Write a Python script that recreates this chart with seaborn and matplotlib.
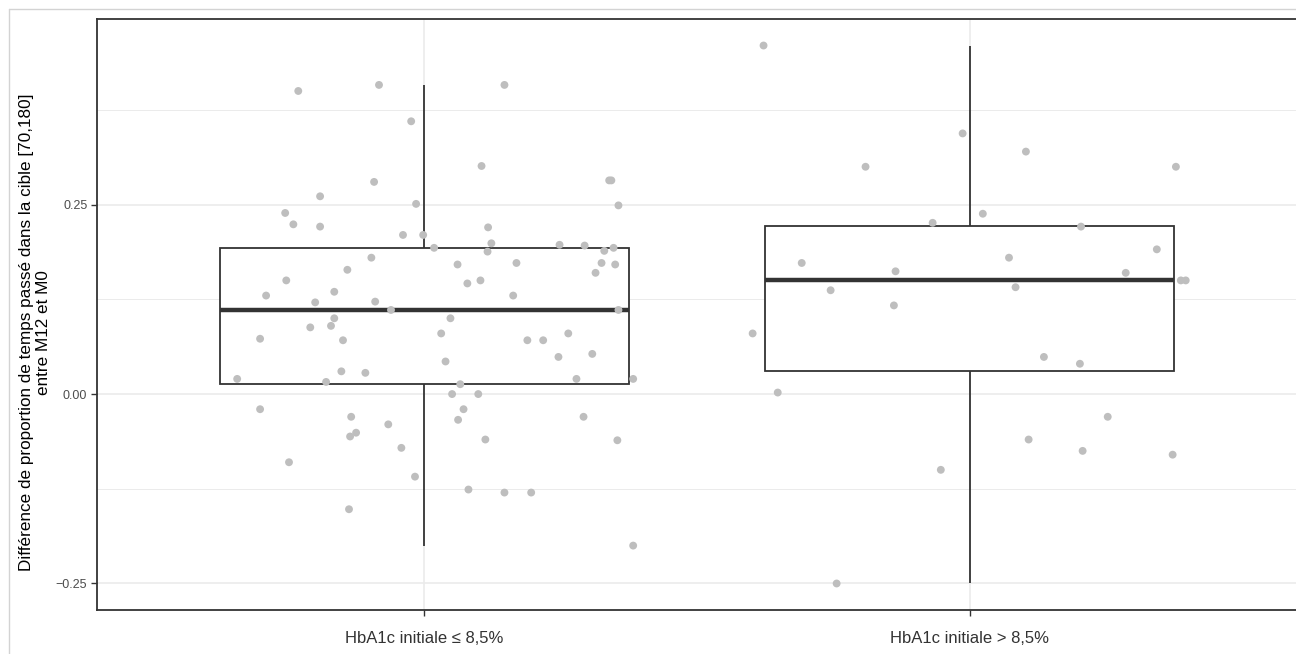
import numpy as np
import pandas as pd
import matplotlib
matplotlib.use("Agg")
import matplotlib.pyplot as plt
from matplotlib.lines import Line2D
import seaborn as sns

# ---------------- data ----------------
categories = ["HbA1c initiale \u2264 8,5%", "HbA1c initiale > 8,5%"]

values_low = [0.400, 0.408, 0.408, 0.360, 0.301, 0.280, 0.282, 0.282, 0.261, 0.251,
              0.249, 0.239, 0.224, 0.221, 0.220, 0.210, 0.210, 0.199, 0.193, 0.188,
              0.197, 0.196, 0.189, 0.193, 0.180, 0.171, 0.173, 0.173, 0.171, 0.164,
              0.150, 0.146, 0.160, 0.150, 0.135, 0.130, 0.130, 0.121, 0.122, 0.111,
              0.111, 0.100, 0.100, 0.090, 0.088, 0.073, 0.071, 0.080, 0.071, 0.071,
              0.080, 0.049, 0.053, 0.043, 0.030, 0.028, 0.020, 0.016, 0.020, 0.020,
              0.013, 0.000, 0.000, -0.020, -0.030, -0.040, -0.051, -0.056, -0.020, -0.034,
              -0.030, -0.071, -0.060, -0.061, -0.090, -0.109, -0.152, -0.126, -0.130, -0.130,
              -0.200]
jitter_low = [-0.231, -0.083, 0.147, -0.024, 0.105, -0.092, 0.339, 0.343, -0.191, -0.015,
              0.356, -0.255, -0.240, -0.191, 0.117, -0.039, -0.002, 0.123, 0.018, 0.116,
              0.248, 0.294, 0.330, 0.347, -0.097, 0.061, 0.169, 0.325, 0.350, -0.141,
              0.103, 0.079, 0.314, -0.253, -0.165, -0.290, 0.163, -0.200, -0.090, -0.061,
              0.356, 0.048, -0.165, -0.171, -0.209, -0.301, -0.149, 0.031, 0.189, 0.218,
              0.264, 0.246, 0.308, 0.039, -0.152, -0.108, -0.343, -0.180, 0.279, 0.383,
              0.066, 0.051, 0.099, -0.301, -0.134, -0.066, -0.125, -0.136, 0.072, 0.062,
              0.292, -0.042, 0.112, 0.354, -0.248, -0.017, -0.138, 0.081, 0.147, 0.196,
              0.383]

values_high = [0.460, 0.344, 0.300, 0.320, 0.300, 0.238, 0.226, 0.221, 0.173, 0.180,
               0.191, 0.162, 0.160, 0.141, 0.137, 0.150, 0.150, 0.117, 0.080, 0.049,
               0.040, 0.002, -0.030, -0.060, -0.075, -0.080, -0.100, -0.250]
jitter_high = [-0.378, -0.013, -0.191, 0.103, 0.378, 0.024, -0.068, 0.204, -0.308, 0.072,
               0.343, -0.136, 0.286, 0.084, -0.255, 0.387, 0.396, -0.139, -0.398, 0.136,
               0.202, -0.352, 0.253, 0.108, 0.207, 0.372, -0.053, -0.244]

y_ticks = [-0.25, 0.00, 0.25]
y_tick_labels = ["\u22120.25", "0.00", "0.25"]
y_label = "Diff\u00e9rence de proportion de temps pass\u00e9 dans la cible [70,180]\nentre M12 et M0"

df = pd.DataFrame({
    "groupe": [categories[0]] * len(values_low) + [categories[1]] * len(values_high),
    "valeur": values_low + values_high,
    "jitter": jitter_low + jitter_high,
})
df["pos"] = df["groupe"].map({c: i for i, c in enumerate(categories)}) + df["jitter"]

# ---------------- style ----------------
sns.set_theme(style="white")
plt.rcParams["font.family"] = ["Liberation Sans", "DejaVu Sans"]

W, H = 1296, 654
fig = plt.figure(figsize=(W / 100, H / 100), dpi=100)
ax = fig.add_axes([97 / W, 1 - 610 / H, 1200 / W, (610 - 19) / H])

dark = "#333333"
grid_c = "#EBEBEB"

sns.boxplot(data=df, x="groupe", y="valeur", order=categories, ax=ax,
            width=0.75, whis=1.5, showcaps=False, showfliers=False,
            color="white", linecolor=dark, linewidth=1.3,
            medianprops=dict(color=dark, linewidth=3.2),
            boxprops=dict(facecolor="white", edgecolor=dark, zorder=2),
            whiskerprops=dict(color=dark, linewidth=1.3))

sns.scatterplot(data=df, x="pos", y="valeur", ax=ax, color="#BEBEBE",
                s=32, edgecolor="none", linewidth=0, zorder=4, legend=False)

ax.set_xlim(-0.6, 1.6)
ax.set_ylim(-0.285, 0.495)
ax.set_xticks([0, 1])
ax.set_xticklabels(categories, fontsize=12, color="#333333")
ax.set_yticks(y_ticks)
ax.set_yticklabels(y_tick_labels, fontsize=9, color="#4D4D4D")
ax.set_yticks([-0.125, 0.125, 0.375], minor=True)
ax.tick_params(axis="both", which="major", length=4, width=1.0, color=dark,
               direction="out", left=True, bottom=True, pad=3)
ax.tick_params(axis="x", pad=11)
ax.tick_params(axis="y", which="minor", length=0, left=False)
ax.grid(True, which="major", color=grid_c, linewidth=1.2, zorder=0)
ax.grid(True, which="minor", axis="y", color=grid_c, linewidth=0.7, zorder=0)
ax.set_axisbelow(True)

ax.set_xlabel("")
ax.set_ylabel(y_label, fontsize=12.3, color="black", multialignment="center",
              linespacing=1.2)
ax.yaxis.set_label_coords(-0.038, 0.47)

for side in ["left", "bottom", "top", "right"]:
    ax.spines[side].set_color(dark)
    ax.spines[side].set_linewidth(1.3)
    ax.spines[side].set_visible(True)

# light outer frame
fig.add_artist(Line2D([9 / W, 9 / W], [0, 1 - 9 / H], transform=fig.transFigure,
                      color="#D3D3D3", linewidth=1.0))
fig.add_artist(Line2D([9 / W, 1], [1 - 9 / H, 1 - 9 / H], transform=fig.transFigure,
                      color="#D3D3D3", linewidth=1.0))

fig.savefig("out.png", dpi=100, facecolor="white")
